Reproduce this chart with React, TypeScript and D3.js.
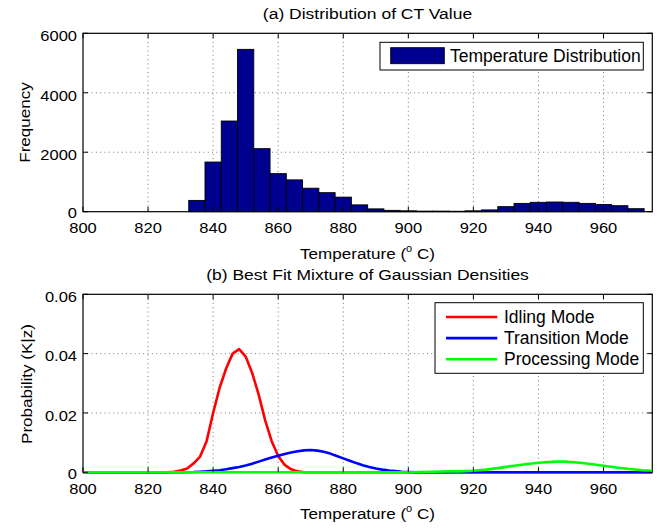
import React from "react";
import * as d3 from "d3";

// ---------- data ----------
const binCenters = [835, 840, 845, 850, 855, 860, 865, 870, 875, 880, 885, 890, 895, 900, 905, 910, 915, 920, 925, 930, 935, 940, 945, 950, 955, 960, 965, 970];
const binCounts = [380, 1670, 3050, 5460, 2120, 1280, 1070, 790, 640, 490, 230, 95, 45, 30, 20, 20, 15, 30, 60, 170, 280, 316, 326, 316, 280, 240, 202, 101];
const binWidth = 5;

const idleT = [800, 826, 828, 830, 832, 834, 836, 838, 840, 842, 844, 846, 848, 850, 852, 854, 856, 858, 860, 862, 864, 866, 868, 975];
const idleP = [0, 0, 0.0002, 0.0006, 0.0013, 0.003, 0.0053, 0.0105, 0.02, 0.0285, 0.035, 0.04, 0.0415, 0.039, 0.0335, 0.0262, 0.0175, 0.0105, 0.0055, 0.0025, 0.001, 0.0003, 0, 0];

const transT = [800, 830, 834, 836, 838, 840, 842, 844, 846, 848, 850, 852, 854, 856, 858, 860, 862, 864, 866, 868, 870, 872, 874, 876, 878, 880, 882, 884, 886, 888, 890, 892, 894, 896, 898, 900, 902, 975];
const transP = [0, 0, 0.0001, 0.0002, 0.0003, 0.0005, 0.0007, 0.001, 0.0014, 0.0018, 0.0023, 0.0029, 0.0036, 0.0043, 0.005, 0.0056, 0.0062, 0.0067, 0.0071, 0.0074, 0.0075, 0.0073, 0.0069, 0.0063, 0.0055, 0.0047, 0.0039, 0.0031, 0.0024, 0.0018, 0.0013, 0.0009, 0.0006, 0.0004, 0.0002, 0.0001, 0, 0];

const procT = [800, 900, 904, 908, 912, 916, 920, 924, 928, 932, 936, 940, 944, 946, 948, 952, 956, 960, 964, 968, 972, 975];
const procP = [0, 0, 0.0001, 0.0002, 0.0003, 0.0003, 0.0005, 0.0009, 0.0015, 0.0021, 0.0027, 0.0032, 0.0035, 0.0036, 0.0036, 0.0033, 0.0028, 0.0022, 0.0016, 0.0011, 0.0007, 0.0005];

const xTicks = [800, 820, 840, 860, 880, 900, 920, 940, 960];
const freqTicks = [0, 2000, 4000, 6000];
const freqTickLabels = ["0", "2000", "4000", "6000"];
const probTicks = [0, 0.02, 0.04, 0.06];
const probTickLabels = ["0", "0.02", "0.04", "0.06"];

const seriesNames = ["Idling Mode", "Transition Mode", "Processing Mode"];
const seriesColors = ["#ff0000", "#0000ff", "#00ff00"];

// ---------- layout ----------
const W = 668, H = 528;
const X0 = 83, X1 = 652.3;
const topY0 = 33.3, topY1 = 211.7;
const botY0 = 294.3, botY1 = 472.3;
const FONT = "'Liberation Sans', Arial, Helvetica, sans-serif";

function Txt({ x, y, size = 15, sx = 1.1, anchor = "middle", rotate = 0, children }: any) {
  const tr = `translate(${x},${y})${rotate ? ` rotate(${rotate})` : ""} scale(${sx},1)`;
  return (
    <text transform={tr} fontSize={size} textAnchor={anchor} fontFamily={FONT} fill="#000">
      {children}
    </text>
  );
}

function Grid({ y0, y1, yTicks, yScale, xScale }: any) {
  return (
    <g>
      <rect x={X0} y={y0} width={X1 - X0} height={y1 - y0} fill="#fff" stroke="#000" strokeWidth={1.2} />
      {xTicks.filter((t) => t !== 800).map((t) => (
        <line key={"gx" + t} x1={xScale(t)} x2={xScale(t)} y1={y0} y2={y1} stroke="#777" strokeWidth={1} strokeDasharray="1 3.3" />
      ))}
      {yTicks.filter((t: number, i: number) => i > 0 && i < yTicks.length - 1).map((t: number) => (
        <line key={"gy" + t} x1={X0} x2={X1} y1={yScale(t)} y2={yScale(t)} stroke="#777" strokeWidth={1} strokeDasharray="1 3.3" />
      ))}
    </g>
  );
}

function Ticks({ y0, y1, yTicks, yLabels, yScale, xScale, xLabelDy }: any) {
  const tickLen = 5;
  return (
    <g>
      {xTicks.map((t) => (
        <g key={"tx" + t}>
          <line x1={xScale(t)} x2={xScale(t)} y1={y1} y2={y1 - tickLen} stroke="#000" />
          <line x1={xScale(t)} x2={xScale(t)} y1={y0} y2={y0 + tickLen} stroke="#000" />
          <Txt x={xScale(t)} y={y1 + xLabelDy}>{String(t)}</Txt>
        </g>
      ))}
      {yTicks.map((t: number, i: number) => (
        <g key={"ty" + t}>
          <line x1={X0} x2={X0 + tickLen} y1={yScale(t)} y2={yScale(t)} stroke="#000" />
          <line x1={X1} x2={X1 - tickLen} y1={yScale(t)} y2={yScale(t)} stroke="#000" />
          <Txt x={77} y={yScale(t) + (i === 0 ? 6.4 : 7.8)} anchor="end">{yLabels[i]}</Txt>
        </g>
      ))}
    </g>
  );
}

function TempLabel({ y }: any) {
  return (
    <text transform={`translate(367.5,${y}) scale(1.1,1)`} fontSize={15.5} textAnchor="middle" fontFamily={FONT}>
      Temperature (<tspan fontSize={10} dy={-7}>o</tspan><tspan dy={7}> C)</tspan>
    </text>
  );
}

export default function App() {
  const xScale = d3.scaleLinear().domain([800, 975]).range([X0, X1]);
  const yTop = d3.scaleLinear().domain([0, 6000]).range([topY1, topY0]);
  const yBot = d3.scaleLinear().domain([0, 0.06]).range([botY1, botY0]);

  const series = [
    { t: idleT, p: idleP },
    { t: transT, p: transP },
    { t: procT, p: procP },
  ];
  const line = d3
    .line<[number, number]>()
    .x((d) => xScale(d[0]))
    .y((d) => yBot(d[1]));

  return (
    <svg width={W} height={H} style={{ position: "absolute", left: 0, top: 0, background: "#fff" }}>
      <rect x={0} y={0} width={W} height={H} fill="#fff" />

      {/* ---------- top chart ---------- */}
      <Txt x={367.5} y={19.3} size={15.5} sx={1.13}>(a) Distribution of CT Value</Txt>
      <Grid y0={topY0} y1={topY1} yTicks={freqTicks} yScale={yTop} xScale={xScale} />
      {binCenters.map((c, i) => (
        <rect
          key={"b" + c}
          x={xScale(c - binWidth / 2)}
          y={yTop(binCounts[i])}
          width={xScale(c + binWidth / 2) - xScale(c - binWidth / 2)}
          height={yTop(0) - yTop(binCounts[i])}
          fill="#00008f"
          stroke="#000"
          strokeWidth={0.9}
        />
      ))}
      <Ticks y0={topY0} y1={topY1} yTicks={freqTicks} yLabels={freqTickLabels} yScale={yTop} xScale={xScale} xLabelDy={20.8} />
      <Txt x={29.5} y={122.5} size={15.5} sx={1.1} rotate={-90}>Frequency</Txt>
      <TempLabel y={259} />
      {/* legend top */}
      <rect x={380} y={42.3} width={263.3} height={27.7} fill="#fff" stroke="#000" strokeWidth={1} />
      <rect x={390.7} y={47.7} width={53.6} height={16} fill="#00008f" stroke="#000" strokeWidth={0.9} />
      <Txt x={450} y={62} size={17.5} sx={1} anchor="start">Temperature Distribution</Txt>

      {/* ---------- bottom chart ---------- */}
      <Txt x={367.5} y={280} size={15.5} sx={1.13}>(b) Best Fit Mixture of Gaussian Densities</Txt>
      <Grid y0={botY0} y1={botY1} yTicks={probTicks} yScale={yBot} xScale={xScale} />
      {series.map((s, i) => (
        <path
          key={"s" + i}
          d={line(s.t.map((t, j) => [t, s.p[j]] as [number, number])) || ""}
          fill="none"
          stroke={seriesColors[i]}
          strokeWidth={2.6}
          strokeLinejoin="round"
        />
      ))}
      <Ticks y0={botY0} y1={botY1} yTicks={probTicks} yLabels={probTickLabels} yScale={yBot} xScale={xScale} xLabelDy={22} />
      <Txt x={32} y={384} size={15.5} sx={1.1} rotate={-90}>Probability (K|z)</Txt>
      <TempLabel y={519} />
      {/* legend bottom */}
      <rect x={435} y={302.7} width={208.3} height={70.6} fill="#fff" stroke="#000" strokeWidth={1} />
      {seriesNames.map((n, i) => {
        const ry = 317 + i * 21.15;
        return (
          <g key={"l" + i}>
            <line x1={446} x2={497.3} y1={ry} y2={ry} stroke={seriesColors[i]} strokeWidth={2.6} />
            <Txt x={504} y={ry + 6} size={17.5} sx={1} anchor="start">{n}</Txt>
          </g>
        );
      })}
    </svg>
  );
}
